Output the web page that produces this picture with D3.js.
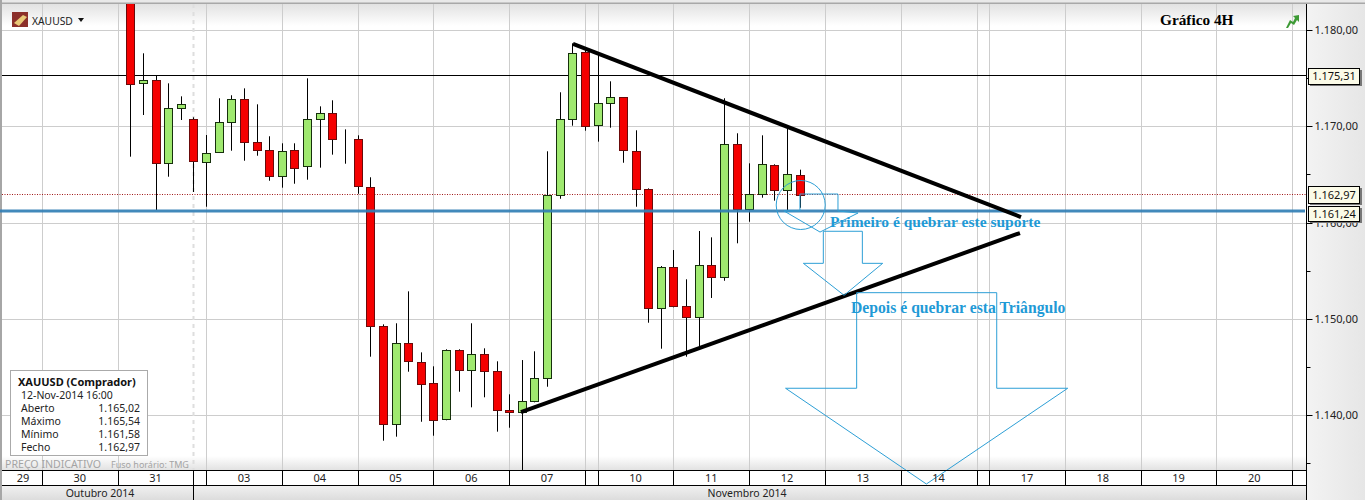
<!DOCTYPE html>
<html><head><meta charset="utf-8">
<script src="https://cdnjs.cloudflare.com/ajax/libs/d3/7.8.5/d3.min.js"></script>
<style>html,body{margin:0;padding:0;background:#fff;overflow:hidden}svg{display:block}text{font-family:"Noto Sans",sans-serif}</style>
</head><body><svg id="c" width="1365" height="500"></svg>
<script>
const open_=[1186,1174.51,1174.83,1166.20,1171.92,1170.77,1166.37,1167.30,1170.46,1172.85,1168.45,1167.61,1164.91,1167.61,1165.85,1170.77,1171.40,1168.70,1168.70,1163.71,1149.27,1139.08,1147.50,1145.59,1143.34,1139.60,1146.77,1144.69,1146.36,1144.59,1140.54,1140.33,1141.47,1143.86,1162.88,1170.77,1177.80,1170.15,1172.44,1173.06,1167.45,1163.50,1151.10,1155.40,1151.34,1150.16,1155.60,1154.36,1168.18,1161.42,1162.98,1165.99,1163.40,1165.02];
const high=[1187,1177.63,1175.30,1174.51,1173.16,1170.98,1169.14,1172.96,1173.27,1173.99,1172.33,1169.01,1168.28,1168.28,1175.03,1172.12,1172.75,1169.73,1169.11,1164.75,1149.47,1149.58,1152.90,1146.56,1145.11,1146.88,1146.88,1149.58,1146.98,1145.63,1142.20,1145.76,1146.67,1167.45,1173.58,1178.67,1178.29,1177.45,1174.72,1173.06,1169.63,1163.60,1155.53,1157.19,1154.15,1159.17,1158.51,1172.96,1169.32,1166.20,1169.11,1166.10,1169.84,1165.54];
const low=[1166.89,1171.22,1161.35,1164.81,1170.70,1163.22,1161.69,1167.27,1167.51,1166.47,1166.99,1164.39,1163.67,1164.08,1164.50,1165.75,1167.10,1166.16,1163.04,1146.11,1137.38,1137.80,1144.55,1139.35,1137.90,1139.50,1142.47,1140.85,1141.89,1138.32,1138.73,1134.34,1141.37,1142.99,1162.52,1170.11,1169.59,1168.45,1169.90,1166.26,1161.69,1149.64,1146.94,1151.24,1146.11,1147.04,1152.21,1154.00,1157.89,1160.13,1162.63,1162.32,1161.35,1161.58];
const close_=[1174.51,1174.83,1166.20,1171.92,1172.33,1166.37,1167.30,1170.46,1172.85,1168.34,1167.61,1164.91,1167.51,1165.75,1170.77,1171.40,1168.70,1168.70,1163.77,1149.22,1139.08,1147.50,1145.59,1143.34,1139.50,1146.77,1144.69,1146.36,1144.59,1140.54,1140.33,1141.47,1143.86,1162.88,1170.77,1177.63,1170.15,1172.44,1173.06,1167.55,1163.50,1151.10,1155.40,1151.30,1150.16,1155.60,1154.36,1168.18,1161.42,1162.98,1166.10,1163.40,1165.06,1162.97];
const isUp=[0,1,0,1,1,0,1,1,1,0,0,0,1,0,1,1,0,0,0,0,0,1,0,0,0,1,0,1,0,0,0,1,1,1,1,1,0,1,1,0,0,0,1,0,0,1,0,1,0,1,1,0,1,0];
const majorPrices=[1180,1170,1160,1150,1140];
const minorPrices=[1175,1165,1155,1145,1135];
const gridBars=[-7,-1,6,12,18,24,30,36,37,43,49,55,61,67,68,74,80,86,92];
const monthBar=5;
const dayEdges=[-10,-7,-1,5,6,12,18,24,30,36,37,43,49,55,61,67,68,74,80,86,92];
const dayLabels=["29","30","31","","03","04","05","06","07","","10","11","12","13","14","","17","18","19","20"];
const tagPrices=[1175.31,1162.97,1161.24];
const upperTrend=[[35.05,1178.6],[70.52,1160.62]];
const lowerTrend=[[30.93,1140.36],[70.44,1158.96]];
const arrow1=[[53.02,1163.01],[56.03,1163.01],[56.03,1161.25],[57.62,1161.04],[54.61,1159.06],[51.76,1161.25],[53.02,1161.25]];
const arrow2=[[54.87,1159.14],[57.96,1159.14],[57.96,1155.81],[59.57,1155.81],[56.51,1152.49],[53.29,1155.81],[54.87,1155.81]];
const arrow3=[[57.51,1152.76],[68.60,1152.76],[68.60,1142.83],[74.22,1142.83],[63.03,1132.88],[51.88,1142.83],[57.51,1142.83]];
const ringCentre=[53.08,1161.87];
const infoRows=[["Aberto","1.165,02"],["Máximo","1.165,54"],["Mínimo","1.161,58"],["Fecho","1.162,97"]];

const svg=d3.select("#c");
const x=d3.scaleLinear().domain([0,53]).range([130.3,799.7]);
const y=d3.scaleLinear().domain([1180,1140]).range([30.5,415.5]);
const W=1365,H=500,L=2,R=1306.5,T=4,B=470;
const fmt=d3.formatLocale({decimal:",",thousands:".",grouping:[3],currency:["",""]}).format(",.2f");
const sx=v=>Math.round(x(v))+.5, sy=v=>Math.floor(y(v))+.5;
const xSnap=x.copy().interpolate((a,b)=>t=>Math.round(a+(b-a)*t)+.5);
const ySnap=y.copy().interpolate((a,b)=>t=>Math.floor(a+(b-a)*t)+.5);

const defs=svg.append("defs");
function grad(id,stops,x2,y2){const g=defs.append("linearGradient").attr("id",id).attr("x1",0).attr("y1",0).attr("x2",x2).attr("y2",y2);
  stops.forEach(s=>g.append("stop").attr("offset",s[0]).attr("stop-color",s[1]));}
grad("hd",[[0,"#e2e2e2"],[1,"#ffffff"]],0,1);
grad("ft",[[0,"#ffffff"],[1,"#e2e2e2"]],0,1);
grad("mo",[[0,"#f2f2f2"],[1,"#dcdcdc"]],0,1);
grad("pn",[[0,"#f3f3f3"],[1,"#e6e6e6"]],1,0);
defs.append("clipPath").attr("id","plot").append("rect").attr("x",L).attr("y",T).attr("width",R-L).attr("height",B-T);

svg.append("rect").attr("width",W).attr("height",H).attr("fill","#fff");
svg.append("rect").attr("x",L).attr("y",T).attr("width",R-L).attr("height",22).attr("fill","url(#hd)");
svg.append("rect").attr("x",L).attr("y",456).attr("width",R-L).attr("height",14).attr("fill","url(#ft)");
svg.append("rect").attr("x",R).attr("y",0).attr("width",W-R).attr("height",H).attr("fill","url(#pn)");
svg.append("rect").attr("x",L).attr("y",485).attr("width",R-L).attr("height",15).attr("fill","url(#mo)");
svg.append("rect").attr("x",0).attr("y",0).attr("width",W).attr("height",3).attr("fill","#e9e9e9");
svg.append("rect").attr("x",0).attr("y",2.5).attr("width",W).attr("height",1.5).attr("fill","#a8a8a8");
svg.append("rect").attr("x",0).attr("y",0).attr("width",2).attr("height",H).attr("fill","#a6a6a6");

// grid
const grid=svg.append("g").attr("stroke","#cdcdcd").attr("stroke-width",1);
grid.selectAll(".v").data(gridBars).join("line").attr("x1",sx).attr("x2",sx).attr("y1",T).attr("y2",B);
grid.selectAll(".h").data(majorPrices).join("line").attr("x1",L).attr("x2",R).attr("y1",sy).attr("y2",sy);
svg.append("line").attr("x1",sx(monthBar)).attr("x2",sx(monthBar)).attr("y1",T).attr("y2",B)
  .attr("stroke","#dedede").attr("stroke-width",2).attr("stroke-dasharray","4 4");

// reference lines
svg.append("line").attr("x1",L).attr("x2",R).attr("y1",sy(tagPrices[0])).attr("y2",sy(tagPrices[0])).attr("stroke","#000");
svg.append("line").attr("x1",L).attr("x2",R).attr("y1",sy(tagPrices[1])).attr("y2",sy(tagPrices[1])).attr("stroke","#a01818").attr("stroke-dasharray","1 1.5");

// candles
const idx=d3.range(open_.length);
const cg=svg.append("g").attr("clip-path","url(#plot)");
cg.selectAll("line.w").data(idx).join("line").attr("class","w")
  .attr("x1",sx).attr("x2",sx).attr("y1",i=>y(high[i])).attr("y2",i=>y(low[i])).attr("stroke","#000");
cg.selectAll("rect.b").data(idx).join("rect").attr("class","b")
  .attr("x",i=>sx(i)-4).attr("width",8)
  .attr("y",i=>Math.round(y(Math.max(open_[i],close_[i])))+.5)
  .attr("height",i=>Math.max(0,Math.round(Math.abs(y(open_[i])-y(close_[i])))))
  .attr("fill",i=>isUp[i]?"#9fe96f":"#f50000")
  .attr("stroke",i=>isUp[i]?"#16300c":"#6b0a0a");

// support line
svg.append("line").attr("x1",0).attr("x2",1305).attr("y1",y(tagPrices[2])).attr("y2",y(tagPrices[2]))
  .attr("stroke","#327fb6").attr("stroke-width",3).attr("opacity",.92);

// trend lines
const ln=d3.line().x(d=>x(d[0])).y(d=>y(d[1]));
[upperTrend,lowerTrend].forEach(t=>svg.append("path").attr("d",ln(t)).attr("fill","none").attr("stroke","#000").attr("stroke-width",4));

// blue drawings
const ann="#2d9fd6";
[arrow1,arrow2,arrow3].forEach(a=>svg.append("path").attr("d",ln(a)+"Z").attr("fill","none").attr("stroke",ann).attr("stroke-width",1));
svg.append("circle").attr("cx",x(ringCentre[0])).attr("cy",y(ringCentre[1])).attr("r",x(1.94)-x(0)).attr("fill","none").attr("stroke",ann);
const serif='"Liberation Serif",serif';
svg.append("text").attr("x",830).attr("y",227).attr("fill","#1f9ad6").attr("font-weight","bold").attr("font-size",15.5).style("font-family",serif).text("Primeiro é quebrar este suporte");
svg.append("text").attr("x",851).attr("y",312.5).attr("fill","#1f9ad6").attr("font-weight","bold").attr("font-size",15.7).style("font-family",serif).text("Depois é quebrar esta Triângulo");
svg.append("text").attr("x",1160).attr("y",25).attr("fill","#000").attr("font-weight","bold").attr("font-size",15.3).style("font-family",serif).text("Gráfico 4H");

// bottom axis
svg.append("text").attr("x",5).attr("y",468).attr("font-size",10.6).attr("fill","#a4a4a4").text("PREÇO INDICATIVO");
svg.append("text").attr("x",111).attr("y",468).attr("font-size",9).attr("fill","#a4a4a4").text("Fuso horário: TMG");
const xa=svg.append("g").attr("transform",`translate(0,${B+.5})`)
  .call(d3.axisBottom(xSnap).offset(0).tickValues(gridBars.concat([monthBar])).tickSize(15).tickFormat(""));
xa.select(".domain").remove();
xa.selectAll("line").attr("stroke","#000");
svg.append("line").attr("x1",L).attr("x2",R).attr("y1",B+.5).attr("y2",B+.5).attr("stroke","#000");
svg.append("line").attr("x1",L).attr("x2",R).attr("y1",485.5).attr("y2",485.5).attr("stroke","#000");
svg.append("line").attr("x1",sx(monthBar)).attr("x2",sx(monthBar)).attr("y1",485).attr("y2",H).attr("stroke","#000");
svg.selectAll("text.day").data(dayLabels).join("text").attr("class","day")
  .attr("x",(d,i)=>(x(dayEdges[i])+x(dayEdges[i+1]))/2).attr("y",482).attr("text-anchor","middle")
  .attr("font-size",11).attr("fill","#222").text(d=>d);
svg.append("text").attr("x",100).attr("y",497).attr("text-anchor","middle").attr("font-size",10.5).attr("fill","#222").text("Outubro 2014");
svg.append("text").attr("x",747).attr("y",497).attr("text-anchor","middle").attr("font-size",10.5).attr("fill","#222").text("Novembro 2014");

// right axis
svg.append("line").attr("x1",R).attr("x2",R).attr("y1",T).attr("y2",H).attr("stroke","#000");
const ya=svg.append("g").attr("transform",`translate(${R},0)`)
  .call(d3.axisRight(ySnap).offset(0).tickValues(majorPrices).tickSize(6).tickPadding(2).tickFormat(fmt));
ya.select(".domain").remove();
ya.selectAll("line").attr("stroke","#000");
ya.selectAll("text").attr("font-size",11).attr("fill","#222").style("font-family",'"Noto Sans",sans-serif').attr("dy","0.34em");
const ym=svg.append("g").attr("transform",`translate(${R},0)`)
  .call(d3.axisRight(ySnap).offset(0).tickValues(minorPrices).tickSize(4).tickFormat(""));
ym.select(".domain").remove();
ym.selectAll("line").attr("stroke","#000");

// price tags
const tagTop=[68,186,206], tagH=[16,17,15];
tagPrices.forEach((p,i)=>{
  const g=svg.append("g");
  g.append("rect").attr("x",1310).attr("y",tagTop[i]+2).attr("width",52).attr("height",tagH[i]).attr("fill","#777");
  g.append("rect").attr("x",1308.5).attr("y",tagTop[i]+.5).attr("width",51).attr("height",tagH[i]).attr("fill","#fbfbe8").attr("stroke","#000");
  g.append("text").attr("x",1334).attr("y",tagTop[i]+tagH[i]/2+4).attr("text-anchor","middle").attr("font-size",11).attr("fill","#111").text(fmt(p));
});

// info box
const box=svg.append("g");
box.append("rect").attr("x",10.5).attr("y",370.5).attr("width",137).attr("height",85).attr("fill","#fff").attr("stroke","#aaa");
box.append("text").attr("x",18).attr("y",386).attr("font-size",11).attr("font-weight","bold").attr("fill","#111").text("XAUUSD (Comprador)");
box.append("text").attr("x",21).attr("y",399).attr("font-size",10.5).attr("fill","#222").text("12-Nov-2014 16:00");
infoRows.forEach((r,i)=>{
  box.append("text").attr("x",21).attr("y",412+13*i).attr("font-size",10.5).attr("fill","#222").text(r[0]);
  box.append("text").attr("x",140).attr("y",412+13*i).attr("text-anchor","end").attr("font-size",10.5).attr("fill","#222").text(r[1]);
});

// header items
const ic=svg.append("g");
ic.append("rect").attr("x",12).attr("y",12).attr("width",16).attr("height",15).attr("fill","#8c2f2a");
ic.append("path").attr("d","M14 23 L23 15 L27 17 L19 26 Z").attr("fill","#e9c877");
svg.append("text").attr("x",32).attr("y",25).attr("font-size",10.3).attr("fill","#222").text("XAUUSD");
svg.append("path").attr("d","M78 18 H84 L81 22 Z").attr("fill","#111");
svg.append("path").attr("d","M1286 28 L1290 20 L1293 22 L1295 18 L1293 16 L1299 15 L1299 22 L1297 20 L1294 25 L1291 23 L1288 28 Z").attr("fill","#3d9a35");
</script></body></html>
